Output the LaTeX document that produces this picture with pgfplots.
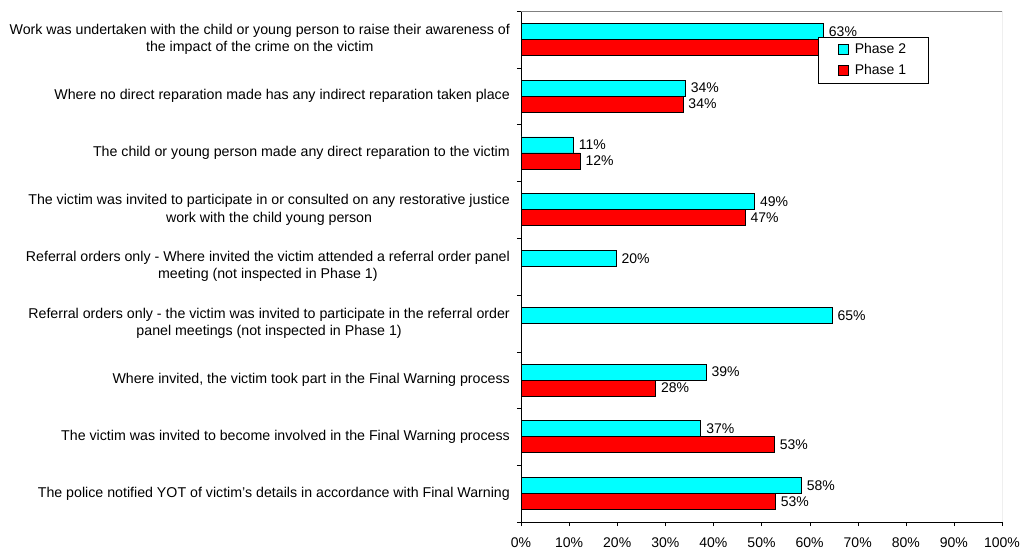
\documentclass[border=0pt]{standalone}
\usepackage{fontspec}
\setmainfont{Liberation Sans}
\usepackage{pgfplots}
\pgfplotsset{compat=1.18}
\definecolor{cy}{HTML}{00FFFF}
\definecolor{rd}{HTML}{FF0000}
\begin{document}
\fontsize{14bp}{17bp}\selectfont
\begin{tikzpicture}
\begin{axis}[
  at={(521bp,28bp)}, anchor=south west,
  scale only axis, width=481bp, height=511bp,
  xmin=0, xmax=100, ymin=-0.5, ymax=8.5, y dir=reverse,
  xbar, bar width=16bp,
  axis x line*=bottom, axis y line*=left, axis line style={-, black},
  tick align=outside,
  xtick={0,10,...,100},
  xticklabel={\pgfmathprintnumber{\tick}\%},
  /pgf/number format/assume math mode=true,
  major tick length=4bp, minor tick length=4bp,
  xtick style={black},
  ytick={0,...,8},
  y tick style={draw=none},
  minor ytick={-0.5,0.5,...,8.5},
  minor y tick style={draw=black},
  yticklabels={
    {Work was undertaken with the child or young person to raise their awareness of\\the impact of the crime on the victim},
    {Where no direct reparation made has any indirect reparation taken place},
    {The child or young person made any direct reparation to the victim},
    {The victim was invited to participate in or consulted on any restorative justice\\work with the child young person},
    {Referral orders only - Where invited the victim attended a referral order panel\\meeting (not inspected in Phase 1)},
    {Referral orders only - the victim was invited to participate in the referral order\\panel meetings (not inspected in Phase 1)},
    {Where invited, the victim took part in the Final Warning process},
    {The victim was invited to become involved in the Final Warning process},
    {The police notified YOT of victim's details in accordance with Final Warning}},
  yticklabel style={align=center, font=\fontsize{14.2bp}{17.5bp}\selectfont, inner sep=0pt, xshift=-7bp},
  xticklabel style={font=\fontsize{14bp}{17bp}\selectfont, yshift=-7bp},
  nodes near coords align={horizontal},
  every node near coord/.append style={font=\fontsize{14bp}{17bp}\selectfont, anchor=west, inner sep=0pt, xshift=5bp, black},
  legend style={at={(axis description cs:0.617,0.949)}, anchor=north west, draw=black, fill=white,
    font=\fontsize{14bp}{17bp}\selectfont, inner xsep=20bp, inner ysep=4bp, row sep=5bp},
  legend cell align=left,
  legend image code/.code={\draw[#1, draw=black] (0bp,-5bp) rectangle (10bp,5bp); \path (14bp,0bp);},
]
\addplot[fill=cy, draw=black, line width=0.8bp, bar shift=8bp,
  nodes near coords={\pgfmathprintnumber[fixed,precision=0]{\pgfplotspointmeta}\%}] coordinates {
  (62.9,0) (34.2,1) (10.9,2) (48.6,3) (19.8,4) (64.7,5) (38.5,6) (37.4,7) (58.3,8)};
\addplot[fill=rd, draw=black, line width=0.8bp, bar shift=-8bp,
  point meta=explicit symbolic, nodes near coords={\pgfplotspointmeta}] coordinates {
  (64,0) [] (33.7,1) [34\%] (12.3,2) [12\%] (46.6,3) [47\%] (28.0,6) [28\%] (52.7,7) [53\%] (52.9,8) [53\%]};
\legend{Phase 2, Phase 1}
\draw[gray] (axis description cs:0,1) -- (axis description cs:1,1) -- (axis description cs:1,0);
\end{axis}
\pgfresetboundingbox
\path (0,0) rectangle (1020bp,550bp);
\end{tikzpicture}
\end{document}
